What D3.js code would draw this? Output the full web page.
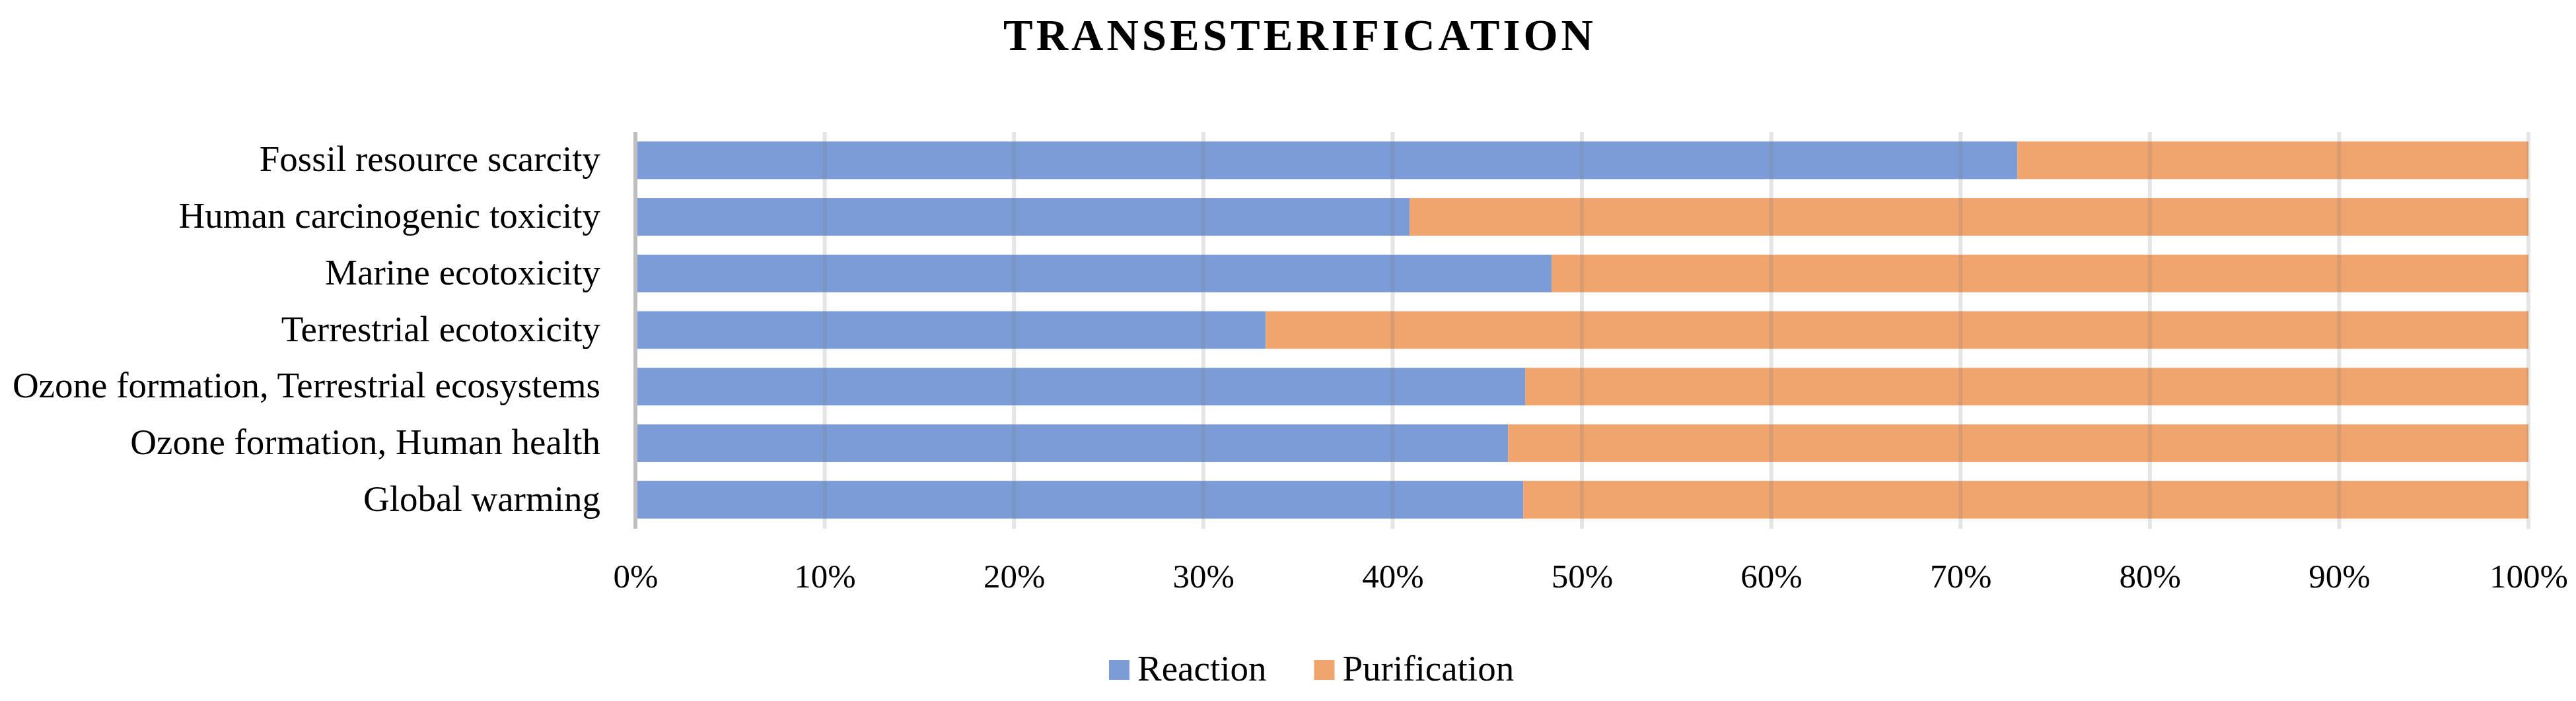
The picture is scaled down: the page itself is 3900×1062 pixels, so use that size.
<!DOCTYPE html>
<html>
<head>
<meta charset="utf-8">
<script src="https://cdn.jsdelivr.net/npm/d3@7"></script>
<style>
  html, body { margin: 0; padding: 0; background: #ffffff; }
  svg { display: block; }
  text { font-family: "Liberation Serif", "Times New Roman", serif; fill: #000; }
</style>
</head>
<body>
<svg id="chart" width="3900" height="1062"></svg>
<script>
// ---- data ----
const title = "TRANSESTERIFICATION";
const categories = [
  "Fossil resource scarcity",
  "Human carcinogenic toxicity",
  "Marine ecotoxicity",
  "Terrestrial ecotoxicity",
  "Ozone formation, Terrestrial ecosystems",
  "Ozone formation, Human health",
  "Global warming"
];
const seriesNames = ["Reaction", "Purification"];
const reaction = [73.0, 40.9, 48.4, 33.3, 47.0, 46.1, 46.9];
const purification = [27.0, 59.1, 51.6, 66.7, 53.0, 53.9, 53.1];
const xTicks = [0, 10, 20, 30, 40, 50, 60, 70, 80, 90, 100];
const colors = ["#7B9CD6", "#F0A46E"];

// ---- layout ----
const svg = d3.select("#chart");
const x = d3.scaleLinear().domain([0, 100]).range([962, 3828]);
const y = d3.scaleBand().domain(categories).range([200, 800]).paddingInner(0.335).paddingOuter(0.1675);

const rows = categories.map((c, i) => ({ cat: c, values: [reaction[i], purification[i]] }));
const stacked = d3.stack().keys([0, 1]).value((d, k) => d.values[k])(rows);

// bars
svg.append("g").selectAll("g").data(stacked).join("g")
  .attr("fill", (d, i) => colors[i])
  .selectAll("rect").data(d => d).join("rect")
  .attr("x", d => x(d[0]))
  .attr("width", d => x(d[1]) - x(d[0]))
  .attr("y", d => y(d.data.cat))
  .attr("height", y.bandwidth());

// gridlines (drawn on top, semi-transparent)
svg.append("g").selectAll("line").data(xTicks.filter(t => t > 0)).join("line")
  .attr("x1", d => x(d)).attr("x2", d => x(d))
  .attr("y1", 200).attr("y2", 801)
  .attr("stroke", "#7f7f7f").attr("stroke-opacity", 0.2).attr("stroke-width", 6);

// y axis line
svg.append("line")
  .attr("x1", x(0)).attr("x2", x(0)).attr("y1", 200).attr("y2", 801)
  .attr("stroke", "#bfbfbf").attr("stroke-width", 6);

// x axis labels
const xAxis = d3.axisBottom(x).tickValues(xTicks).tickFormat(d => d + "%").tickSize(0).tickPadding(0);
const gx = svg.append("g").attr("transform", "translate(0,853)").call(xAxis);
gx.select(".domain").remove();
gx.selectAll("text").attr("font-size", 51).attr("dy", "0.72em")
  .attr("font-family", "Liberation Serif").attr("fill", "#000");

// y axis labels
const yAxis = d3.axisLeft(y).tickSize(0).tickPadding(0);
const gy = svg.append("g").attr("transform", "translate(909,0)").call(yAxis);
gy.select(".domain").remove();
gy.selectAll("text").attr("font-size", 55).attr("dy", "0.3em")
  .attr("font-family", "Liberation Serif").attr("fill", "#000");

// title
svg.append("text")
  .attr("x", 1968).attr("y", 76)
  .attr("text-anchor", "middle")
  .attr("font-size", 67).attr("font-weight", "bold")
  .attr("letter-spacing", 5)
  .text(title);

// legend
const legend = svg.append("g");
let lx = 1679;
seriesNames.forEach((name, i) => {
  legend.append("rect").attr("x", lx).attr("y", 1000).attr("width", 31).attr("height", 30).attr("fill", colors[i]);
  const t = legend.append("text").attr("x", lx + 43).attr("y", 1031).attr("font-size", 55).text(name);
  lx = lx + 43 + t.node().getComputedTextLength() + 72;
});
</script>
</body>
</html>
